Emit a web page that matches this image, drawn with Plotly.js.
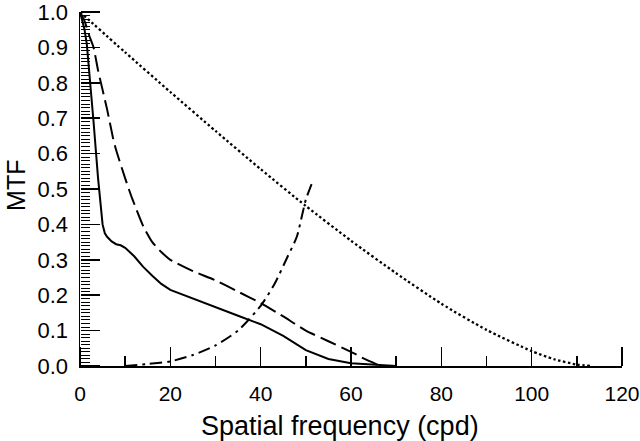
<!DOCTYPE html>
<html>
<head>
<meta charset="utf-8">
<script src="https://cdn.plot.ly/plotly-3.0.1.min.js"></script>
<style>html,body{margin:0;padding:0;background:#fff;}#chart{width:640px;height:441px;}</style>
</head>
<body>
<div id="chart"></div>
<script>
// Dotted curve (near-diffraction-limited MTF)
const dottedX = [0, 10, 20, 30, 40, 50, 60, 70, 80, 90, 100, 105, 110, 113];
const dottedY = [1.0, 0.886, 0.774, 0.664, 0.556, 0.452, 0.354, 0.262, 0.176, 0.102, 0.042, 0.019, 0.004, 0.0];

// Solid curve
const solidX = [0, 1, 1.5, 2, 3, 4, 4.5, 5, 5.5, 6, 7, 8, 9, 10, 12, 14, 16, 18, 20, 25, 30, 35, 40, 45, 50, 55, 60, 65, 70];
const solidY = [1.0, 0.95, 0.91, 0.84, 0.69, 0.53, 0.455, 0.40, 0.375, 0.365, 0.352, 0.344, 0.341, 0.334, 0.31, 0.28, 0.255, 0.232, 0.215, 0.19, 0.167, 0.142, 0.118, 0.085, 0.045, 0.02, 0.008, 0.003, 0.0];

// Dashed curve
const dashedX = [0, 1, 2, 3, 4, 5, 6, 7.3, 8, 10, 11.5, 14, 16, 18, 20, 25, 30, 35, 40, 45, 50, 55, 60, 63, 66];
const dashedY = [1.0, 0.975, 0.935, 0.90, 0.835, 0.78, 0.725, 0.645, 0.61, 0.53, 0.475, 0.395, 0.35, 0.322, 0.30, 0.268, 0.242, 0.21, 0.178, 0.14, 0.10, 0.07, 0.04, 0.02, 0.003];

// Dash-dot curve
const dashdotX = [10, 15, 20, 25, 30, 35, 40, 43, 46, 48, 50, 51.3];
const dashdotY = [0.0, 0.006, 0.013, 0.031, 0.058, 0.10, 0.17, 0.23, 0.31, 0.365, 0.47, 0.515];

// Axis ticks and titles
const xTickVals = [0, 20, 40, 60, 80, 100, 120];
const xTickText = ["0", "20", "40", "60", "80", "100", "120"];
const xTitle = 'Spatial frequency (cpd)';
const yTitle = 'MTF';

const FONT = "Liberation Sans, Arial, Helvetica, sans-serif";

const traces = [
  {x: dottedX, y: dottedY, mode: 'lines', line: {color: '#000', width: 2.3, dash: '2.5px,2.5px', shape: 'spline', smoothing: 0.6}, hoverinfo: 'skip'},
  {x: dashedX, y: dashedY, mode: 'lines', line: {color: '#000', width: 2, dash: '17px,6px', shape: 'spline', smoothing: 0.5}, hoverinfo: 'skip'},
  {x: solidX, y: solidY, mode: 'lines', line: {color: '#000', width: 2, shape: 'linear'}, hoverinfo: 'skip'},
  {x: dashdotX, y: dashdotY, mode: 'lines', line: {color: '#000', width: 2, dash: '12px,5px,3px,5px', shape: 'spline', smoothing: 0.6}, hoverinfo: 'skip'},
  // invisible carrier so the tick-only overlay axes are drawn
  {x: [0], y: [0], xaxis: 'x2', yaxis: 'y2', mode: 'markers', marker: {opacity: 0}, hoverinfo: 'skip'}
];

const layout = {
  width: 640, height: 441,
  margin: {l: 80, r: 18, t: 12, b: 75},
  paper_bgcolor: '#fff', plot_bgcolor: '#fff',
  showlegend: false,
  font: {family: FONT, color: '#000'},
  xaxis: {
    range: [0, 120], tickvals: xTickVals, ticktext: xTickText,
    ticks: '',
    showline: true, linecolor: '#000', linewidth: 1.5,
    showgrid: false, zeroline: false,
    tickfont: {family: FONT, size: 21, color: '#000'},
    ticklabelstandoff: 8,
    ticklabeloverflow: 'allow',
    automargin: false
  },
  yaxis: {
    range: [0, 1.0], tickmode: 'linear', tick0: 0, dtick: 0.1, tickformat: '.1f',
    ticks: '',
    showline: true, linecolor: '#000', linewidth: 1.5,
    showgrid: false, zeroline: false,
    tickfont: {family: FONT, size: 22, color: '#000'},
    ticklabelstandoff: 6,
    ticklabeloverflow: 'allow',
    automargin: false
  },
  // tick-only axes: outside ticks on the opposite side point into the plot
  xaxis2: {
    overlaying: 'x', side: 'top', anchor: 'free', position: 0,
    range: [0, 120], tickmode: 'linear', tick0: 0, dtick: 20,
    ticks: 'outside', ticklen: 19, tickwidth: 1.5, tickcolor: '#000',
    minor: {dtick: 10, tick0: 0, ticks: 'outside', ticklen: 10, tickwidth: 1.5, tickcolor: '#000', showgrid: false},
    showticklabels: false, showline: false, showgrid: false, zeroline: false,
    automargin: false
  },
  yaxis2: {
    overlaying: 'y', side: 'right', anchor: 'free', position: 0,
    range: [0, 1.0], tickmode: 'linear', tick0: 0, dtick: 0.1,
    ticks: 'outside', ticklen: 19, tickwidth: 1.5, tickcolor: '#000',
    minor: {dtick: 0.01, tick0: 0, ticks: 'outside', ticklen: 9, tickwidth: 1, tickcolor: '#000', showgrid: false},
    showticklabels: false, showline: false, showgrid: false, zeroline: false,
    automargin: false
  },
  annotations: [
    {text: xTitle, xref: 'paper', yref: 'paper', x: 0.4806, y: -0.1695, xanchor: 'center', yanchor: 'middle',
     showarrow: false, font: {family: FONT, size: 27, color: '#000'}},
    {text: yTitle, xref: 'paper', yref: 'paper', x: -0.1185, y: 0.511, xanchor: 'center', yanchor: 'middle',
     textangle: -90, showarrow: false, borderpad: 0, font: {family: FONT, size: 25, color: '#000'}}
  ]
};

Plotly.newPlot('chart', traces, layout, {displayModeBar: false, staticPlot: true});
</script>
</body>
</html>
